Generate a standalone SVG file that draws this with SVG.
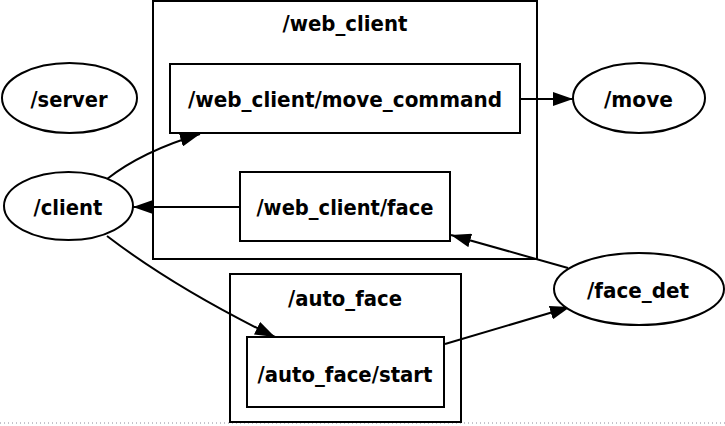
<svg xmlns="http://www.w3.org/2000/svg" width="725" height="426" viewBox="0 0 725 426">
<style>
.c{fill:none;stroke:#000;stroke-width:2}
.n{fill:#fff;stroke:#000;stroke-width:2}
.t{font-family:"DejaVu Sans","Liberation Sans",sans-serif;font-weight:bold;font-size:22px;text-anchor:middle;fill:#000}
.e{fill:none;stroke:#000;stroke-width:2}
</style>
<defs>
<marker id="a" markerWidth="20" markerHeight="14" refX="20" refY="7" orient="auto" markerUnits="userSpaceOnUse" viewBox="0 0 20 14">
<path d="M0,0 L20,7 L0,14 Z" fill="#000"/>
</marker>
</defs>
<rect width="725" height="426" fill="#fff"/>
<line x1="0" y1="423" x2="725" y2="423" stroke="#889" stroke-width="1" stroke-dasharray="1,3"/>
<g id="cluster_web_client">
<rect class="c" x="153" y="1" width="384" height="258"/>
<text class="t" x="345" y="31" textLength="125" lengthAdjust="spacingAndGlyphs">/web_client</text>
</g>
<g id="cluster_auto_face">
<rect class="c" x="230" y="274" width="231" height="148"/>
<text class="t" x="345" y="306" textLength="114" lengthAdjust="spacingAndGlyphs">/auto_face</text>
</g>
<g id="edges">
<path class="e" d="M107,179 C130,161 160,146 200,134" marker-end="url(#a)"/>
<line class="e" x1="240" y1="207" x2="133" y2="207" marker-end="url(#a)"/>
<line class="e" x1="521" y1="99" x2="573" y2="99" marker-end="url(#a)"/>
<line class="e" x1="568" y1="268" x2="451" y2="235" marker-end="url(#a)"/>
<path class="e" d="M107,236 Q175,288 275,337" marker-end="url(#a)"/>
<line class="e" x1="445" y1="344" x2="570" y2="307" marker-end="url(#a)"/>
</g>
<g id="server">
<ellipse class="n" cx="69.5" cy="98" rx="67.5" ry="35"/>
<text class="t" x="69" y="107" textLength="77" lengthAdjust="spacingAndGlyphs">/server</text>
</g>
<g id="client">
<ellipse class="n" cx="68.5" cy="206" rx="64.5" ry="34"/>
<text class="t" x="68" y="215" textLength="69" lengthAdjust="spacingAndGlyphs">/client</text>
</g>
<g id="move">
<ellipse class="n" cx="639" cy="98" rx="66" ry="35"/>
<text class="t" x="638.5" y="107" textLength="69" lengthAdjust="spacingAndGlyphs">/move</text>
</g>
<g id="face_det">
<ellipse class="n" cx="639" cy="289" rx="85" ry="36"/>
<text class="t" x="638" y="298" textLength="102" lengthAdjust="spacingAndGlyphs">/face_det</text>
</g>
<g id="web_client_move_command">
<rect class="n" x="170" y="64" width="350" height="69"/>
<text class="t" x="345" y="107" textLength="314" lengthAdjust="spacingAndGlyphs">/web_client/move_command</text>
</g>
<g id="web_client_face">
<rect class="n" x="240" y="172" width="210" height="69"/>
<text class="t" x="345" y="215" textLength="177" lengthAdjust="spacingAndGlyphs">/web_client/face</text>
</g>
<g id="auto_face_start">
<rect class="n" x="247" y="337" width="197" height="70"/>
<text class="t" x="345" y="382" textLength="175" lengthAdjust="spacingAndGlyphs">/auto_face/start</text>
</g>
</svg>
